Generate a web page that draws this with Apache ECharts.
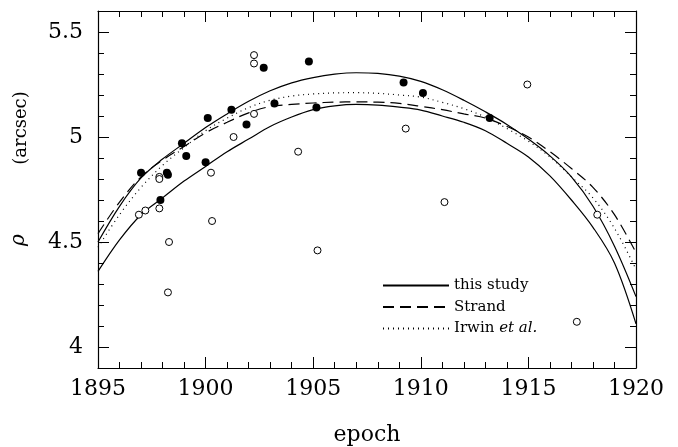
<!DOCTYPE html>
<html>
<head>
<meta charset="utf-8">
<script src="https://cdn.jsdelivr.net/npm/echarts@6/dist/echarts.min.js"></script>
<style>
  html, body { margin: 0; background: #fff; }
  #chart { width: 678px; height: 447px; }
</style>
</head>
<body>
<div id="chart"></div>
<script>
// epochs the fitted curves were read at
const curveEpochs = [1895, 1896, 1897, 1898, 1899, 1900, 1901, 1902, 1903, 1904, 1905, 1906, 1907,
  1908, 1909, 1910, 1911, 1912, 1913, 1914, 1915, 1916, 1917, 1918, 1919, 1920];
// this study, upper and lower bound
const studyUpper = [4.50, 4.67, 4.805, 4.895, 4.97, 5.045, 5.11, 5.17, 5.22, 5.258, 5.283, 5.299, 5.306,
  5.303, 5.29, 5.265, 5.225, 5.175, 5.12, 5.06, 4.99, 4.91, 4.81, 4.67, 4.48, 4.24];
const studyLower = [4.36, 4.51, 4.63, 4.71, 4.79, 4.86, 4.93, 4.99, 5.05, 5.095, 5.13, 5.148, 5.155,
  5.152, 5.142, 5.128, 5.10, 5.07, 5.03, 4.97, 4.905, 4.815, 4.70, 4.57, 4.40, 4.11];
const strand = [4.54, 4.69, 4.81, 4.89, 4.955, 5.02, 5.07, 5.115, 5.145, 5.155, 5.162, 5.166, 5.167,
  5.166, 5.16, 5.146, 5.13, 5.11, 5.09, 5.05, 5.0, 4.93, 4.85, 4.76, 4.63, 4.45];
const irwin = [4.475, 4.63, 4.76, 4.865, 4.95, 5.03, 5.09, 5.14, 5.175, 5.195, 5.205, 5.21, 5.211,
  5.208, 5.20, 5.19, 5.165, 5.135, 5.095, 5.04, 4.98, 4.905, 4.81, 4.71, 4.565, 4.37];

// measurements (filled and open symbols)
const filledEpoch = [1897.0, 1897.9, 1898.2, 1898.25, 1898.9, 1899.1, 1900.0, 1900.1, 1901.2, 1901.9,
  1902.7, 1903.2, 1904.8, 1905.15, 1909.2, 1910.1, 1913.2];
const filledRho = [4.83, 4.70, 4.83, 4.82, 4.97, 4.91, 4.88, 5.09, 5.13, 5.06,
  5.33, 5.16, 5.36, 5.14, 5.26, 5.21, 5.09];
const openEpoch = [1896.9, 1897.2, 1897.85, 1897.85, 1897.85, 1898.3, 1898.25, 1900.25, 1900.3, 1901.3,
  1902.25, 1902.25, 1902.25, 1904.3, 1905.2, 1909.3, 1911.1, 1914.95, 1917.25, 1918.2];
const openRho = [4.63, 4.65, 4.81, 4.80, 4.66, 4.50, 4.26, 4.83, 4.60, 5.00,
  5.11, 5.39, 5.35, 4.93, 4.46, 5.04, 4.69, 5.25, 4.12, 4.63];

const yMajor = [4, 4.5, 5, 5.5];
const yMinor = [];
for (let i = 39; i <= 56; i++) yMinor.push(i / 10);

const pair = (xs, ys) => xs.map((x, i) => [x, ys[i]]);
const font = 'DejaVu Serif';
const black = '#000';

function curve(name, values, type) {
  return {
    name: name,
    type: 'line',
    data: pair(curveEpochs, values),
    smooth: 0.35,
    symbol: 'none',
    silent: true,
    itemStyle: { color: black },
    lineStyle: { color: black, width: 1.2, type: type },
    z: 2
  };
}

function xAx(pos, labels) {
  return {
    type: 'value', position: pos, min: 1895, max: 1920, interval: 5,
    axisLine: { show: true, onZero: false, lineStyle: { color: black, width: 1.2 } },
    axisTick: { inside: true, length: 11, lineStyle: { color: black } },
    minorTick: { show: true, splitNumber: 5, length: 6, lineStyle: { color: black } },
    axisLabel: {
      show: labels, fontFamily: font, fontSize: 22, color: black, margin: 10,
      formatter: v => String(v)
    },
    splitLine: { show: false },
    name: labels ? 'epoch' : '',
    nameLocation: 'middle',
    nameGap: 56,
    nameTextStyle: { fontFamily: font, fontSize: 22, color: black }
  };
}

function yAx(pos, labels, ticks, len, line) {
  return {
    type: 'value', position: pos, min: 3.9, max: 5.6,
    axisLine: { show: line, onZero: false, lineStyle: { color: black, width: 1.2 } },
    axisTick: { inside: true, length: len, customValues: ticks, lineStyle: { color: black } },
    axisLabel: {
      show: labels, customValues: yMajor, fontFamily: font, fontSize: 22, color: black, margin: 15,
      formatter: v => String(+v.toFixed(1))
    },
    splitLine: { show: false }
  };
}

const chart = echarts.init(document.getElementById('chart'));
chart.setOption({
  animation: false,
  backgroundColor: '#fff',
  grid: { left: 98, right: 42, top: 11, bottom: 79, outerBoundsMode: 'none' },
  xAxis: [xAx('bottom', true), xAx('top', false)],
  yAxis: [
    yAx('left', true, yMajor, 11, true),
    yAx('left', false, yMinor, 6, false),
    yAx('right', false, yMajor, 11, true),
    yAx('right', false, yMinor, 6, false)
  ],
  legend: {
    data: ['this study', 'Strand', 'Irwin et al.'],
    orient: 'vertical',
    left: 377, top: 273,
    itemWidth: 66, itemHeight: 14, itemGap: 6.5,
    itemStyle: { opacity: 0 },
    textStyle: {
      fontFamily: font, fontSize: 15, color: black, lineHeight: 14,
      rich: { i: { fontFamily: font, fontSize: 15, fontStyle: 'italic', color: black } }
    },
    formatter: n => n === 'Irwin et al.' ? 'Irwin {i|et al.}' : n,
    selectedMode: false
  },
  graphic: [{
    type: 'text',
    x: 21, y: 128,
    rotation: Math.PI / 2,
    style: {
      text: '(arcsec)', fontFamily: font, fontSize: 18, fill: black,
      align: 'center', verticalAlign: 'middle'
    }
  }, {
    type: 'text',
    x: 19, y: 240,
    rotation: Math.PI / 2,
    style: {
      text: 'ρ', fontFamily: font, fontSize: 20, fontStyle: 'italic', fill: black,
      align: 'center', verticalAlign: 'middle'
    }
  }],
  series: [
    curve('this study', studyUpper, 'solid'),
    curve('this study', studyLower, 'solid'),
    curve('Strand', strand, [11, 6]),
    curve('Irwin et al.', irwin, [1, 4]),
    {
      type: 'scatter', data: pair(openEpoch, openRho), symbol: 'circle', symbolSize: 7,
      itemStyle: { color: '#fff', borderColor: black, borderWidth: 1, opacity: 1 }, z: 3
    },
    {
      type: 'scatter', data: pair(filledEpoch, filledRho), symbol: 'circle', symbolSize: 8,
      itemStyle: { color: black, opacity: 1 }, z: 4
    }
  ]
});
</script>
</body>
</html>
